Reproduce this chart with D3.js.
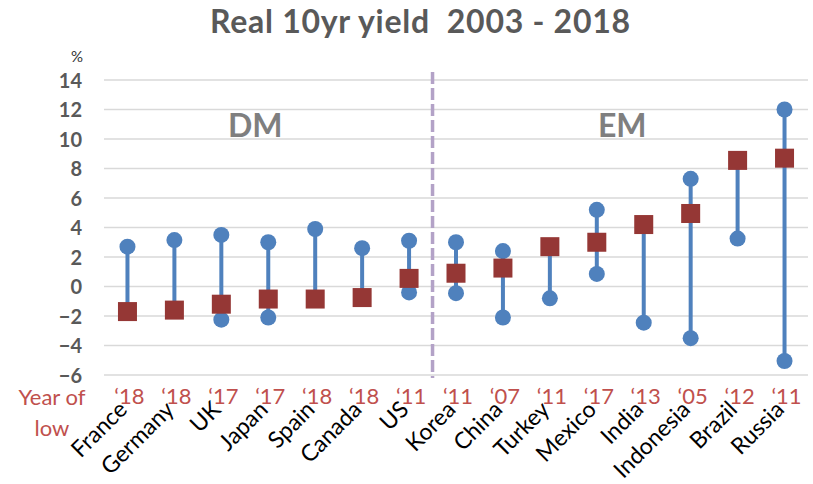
<!DOCTYPE html>
<html>
<head>
<meta charset="utf-8">
<script src="https://cdn.jsdelivr.net/npm/d3@7"></script>
<style>
  html, body { margin: 0; padding: 0; background: #fff; }
  svg { display: block; font-family: Lato, "Open Sans", sans-serif; }
</style>
</head>
<body>
<svg id="chart" width="813" height="484"></svg>
<script>
// Real 10-year yields by country, 2003-2018 (%)
const countries = ["France", "Germany", "UK", "Japan", "Spain", "Canada", "US",
                   "Korea", "China", "Turkey", "Mexico", "India", "Indonesia", "Brazil", "Russia"];
const highs   = [2.7, 3.15, 3.5, 3.0, 3.9, 2.6, 3.1, 3.0, 2.4, 2.7, 5.2, 4.2, 7.3, 8.55, 12.0];
const lows    = [-1.7, -1.6, -2.25, -2.1, -0.85, -0.75, -0.4, -0.45, -2.1, -0.8, 0.85, -2.45, -3.5, 3.25, -5.05];
const current = [-1.7, -1.6, -1.2, -0.85, -0.85, -0.75, 0.55, 0.9, 1.25, 2.7, 3.0, 4.2, 4.95, 8.55, 8.7];
const lowYears = ["\u201818", "\u201818", "\u201817", "\u201817", "\u201818", "\u201818", "\u201811",
                  "\u201811", "\u201807", "\u201811", "\u201817", "\u201813", "\u201805", "\u201812", "\u201811"];
const yTicks = [-6, -4, -2, 0, 2, 4, 6, 8, 10, 12, 14];
const groups = [{ label: "DM", from: "France", to: "US" }, { label: "EM", from: "Korea", to: "Russia" }];

const svg = d3.select("#chart");
const margin = { left: 104, right: 5, top: 80, bottom: 109 };
const W = 813, H = 484;

const x = d3.scaleBand().domain(countries).range([margin.left, W - margin.right]);
const y = d3.scaleLinear().domain([-6, 14]).range([H - margin.bottom, margin.top]);
const cx = c => x(c) + x.bandwidth() / 2;

// Title
svg.append("text")
  .attr("x", 420).attr("y", 33)
  .attr("text-anchor", "middle")
  .attr("font-size", 32).attr("font-weight", "bold")
  .attr("fill", "#595959")
  .attr("textLength", 420).attr("lengthAdjust", "spacing")
  .attr("xml:space", "preserve")
  .text("Real 10yr yield  2003 - 2018");

// Gridlines
svg.append("g").selectAll("line").data(yTicks).join("line")
  .attr("x1", margin.left).attr("x2", W - margin.right)
  .attr("y1", d => y(d)).attr("y2", d => y(d))
  .attr("stroke", "#d9d9d9").attr("stroke-width", 1.5);

// Y axis labels
const yAxis = svg.append("g")
  .attr("transform", `translate(${margin.left - 22},0)`)
  .call(d3.axisLeft(y).tickValues(yTicks).tickSize(0).tickPadding(0));
yAxis.select(".domain").remove();
yAxis.selectAll("text")
  .attr("font-family", "Lato, sans-serif")
  .attr("font-size", 20).attr("font-weight", "bold")
  .attr("fill", "#595959").attr("dy", "0.35em");

svg.append("text")
  .attr("x", 77).attr("y", 62)
  .attr("text-anchor", "middle")
  .attr("font-size", 15).attr("fill", "#333")
  .text("%");

// Divider between developed and emerging markets
const divX = (cx("US") + cx("Korea")) / 2;
svg.append("line")
  .attr("x1", divX).attr("x2", divX)
  .attr("y1", 72).attr("y2", y(-6) + 3)
  .attr("stroke", "#b3a2c7").attr("stroke-width", 3.5)
  .attr("stroke-dasharray", "12,4");

// Group labels
svg.append("g").selectAll("text").data(groups).join("text")
  .attr("x", d => (cx(d.from) + cx(d.to)) / 2 + (d.label === "DM" ? -13 : 2))
  .attr("y", 137)
  .attr("text-anchor", "middle")
  .attr("font-size", 32).attr("font-weight", "bold")
  .attr("fill", "#7f7f7f")
  .text(d => d.label);

// High-low range lines
const rows = countries.map((c, i) => ({ c, hi: highs[i], lo: lows[i], cur: current[i], yr: lowYears[i] }));
const marks = svg.append("g");
marks.selectAll("line.range").data(rows).join("line")
  .attr("class", "range")
  .attr("x1", d => cx(d.c)).attr("x2", d => cx(d.c))
  .attr("y1", d => y(d.hi)).attr("y2", d => y(d.lo))
  .attr("stroke", "#4f81bd").attr("stroke-width", 4);

// High and low points
marks.selectAll("circle.hi").data(rows).join("circle")
  .attr("class", "hi")
  .attr("cx", d => cx(d.c)).attr("cy", d => y(d.hi)).attr("r", 8)
  .attr("fill", "#4f81bd");
marks.selectAll("circle.lo").data(rows).join("circle")
  .attr("class", "lo")
  .attr("cx", d => cx(d.c)).attr("cy", d => y(d.lo)).attr("r", 8)
  .attr("fill", "#4f81bd");

// Current value
const sq = 19;
marks.selectAll("rect.cur").data(rows).join("rect")
  .attr("class", "cur")
  .attr("x", d => cx(d.c) - sq / 2).attr("y", d => y(d.cur) - sq / 2)
  .attr("width", sq).attr("height", sq)
  .attr("fill", "#953735");

// Year of low
svg.append("g").selectAll("text").data(rows).join("text")
  .attr("x", d => cx(d.c) + 2).attr("y", 404)
  .attr("text-anchor", "middle")
  .attr("font-size", 22).attr("fill", "#c0504d")
  .text(d => d.yr);

svg.append("text")
  .attr("x", 52).attr("y", 405)
  .attr("text-anchor", "middle")
  .attr("font-size", 22).attr("fill", "#c0504d")
  .text("Year of");
svg.append("text")
  .attr("x", 52).attr("y", 436)
  .attr("text-anchor", "middle")
  .attr("font-size", 22).attr("fill", "#c0504d")
  .text("low");

// Country labels, rotated
svg.append("g").selectAll("text").data(countries).join("text")
  .attr("transform", d => `translate(${cx(d) + 1},${411}) rotate(-45)`)
  .attr("text-anchor", "end")
  .attr("font-size", 23).attr("fill", "#000")
  .text(d => d);
</script>
</body>
</html>
